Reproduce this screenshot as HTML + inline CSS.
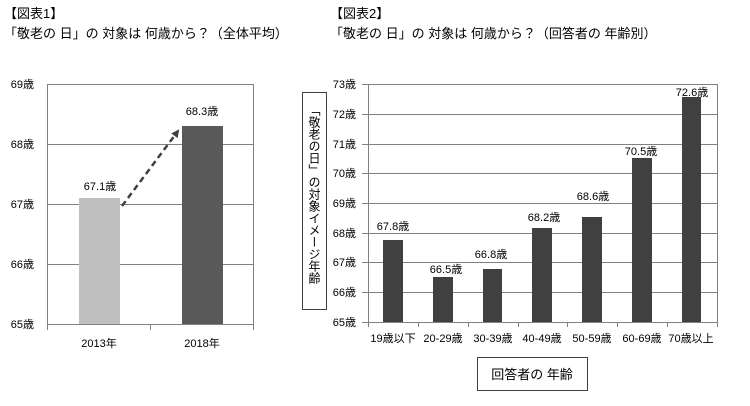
<!DOCTYPE html>
<html><head><meta charset="utf-8"><style>
body{margin:0;background:#fff;width:750px;height:401px;overflow:hidden}
svg text{font-family:"Liberation Sans","Noto Sans CJK JP",sans-serif;fill:#000}
</style></head><body>
<svg width="750" height="401" viewBox="0 0 750 401" xmlns="http://www.w3.org/2000/svg">
<defs><marker id="ah" markerWidth="8" markerHeight="8" refX="6" refY="4" orient="auto" markerUnits="userSpaceOnUse"><path d="M0,0 L8,4 L0,8 z" fill="#404040"/></marker></defs>
<g font-size="13">
<text x="4" y="18">【図表1】</text>
<text x="4" y="38">「敬老の 日」の 対象は 何歳から？（全体平均）</text>
<text x="330" y="18">【図表2】</text>
<text x="330" y="38">「敬老の 日」の 対象は 何歳から？（回答者の 年齢別）</text>
</g>
<!-- chart 1 -->
<g stroke="#808080" stroke-width="1">
<line x1="48" y1="84.5" x2="253" y2="84.5"/>
<line x1="48" y1="144.5" x2="253" y2="144.5"/>
<line x1="48" y1="204.5" x2="253" y2="204.5"/>
<line x1="48" y1="264.5" x2="253" y2="264.5"/>
<line x1="48" y1="324.5" x2="253" y2="324.5"/>
<line x1="47.5" y1="84" x2="47.5" y2="330"/>
<line x1="253.5" y1="84" x2="253.5" y2="330"/>
<line x1="150.5" y1="324" x2="150.5" y2="330"/>
</g>
<rect x="79" y="198" width="41" height="126" fill="#bfbfbf"/>
<rect x="182" y="126" width="41" height="198" fill="#595959"/>
<line x1="122" y1="206" x2="178" y2="131" stroke="#404040" stroke-width="2.5" stroke-dasharray="6,4" marker-end="url(#ah)"/>
<g font-size="11" text-anchor="end">
<text x="34" y="88">69歳</text><text x="34" y="148">68歳</text><text x="34" y="208">67歳</text><text x="34" y="268">66歳</text><text x="34" y="328">65歳</text>
</g>
<g font-size="11" text-anchor="middle">
<text x="100" y="190">67.1歳</text><text x="202" y="115">68.3歳</text>
<text x="99" y="347">2013年</text><text x="202" y="347">2018年</text>
</g>
<!-- chart 2 -->
<g stroke="#808080" stroke-width="1">
<line x1="368" y1="84.5" x2="717" y2="84.5"/>
<line x1="368" y1="114.5" x2="717" y2="114.5"/>
<line x1="368" y1="144.5" x2="717" y2="144.5"/>
<line x1="368" y1="173.5" x2="717" y2="173.5"/>
<line x1="368" y1="203.5" x2="717" y2="203.5"/>
<line x1="368" y1="233.5" x2="717" y2="233.5"/>
<line x1="368" y1="262.5" x2="717" y2="262.5"/>
<line x1="368" y1="292.5" x2="717" y2="292.5"/>
<line x1="368" y1="322.5" x2="717" y2="322.5"/>
<line x1="368.5" y1="84" x2="368.5" y2="327"/>
<line x1="717.5" y1="84" x2="717.5" y2="327"/>
<line x1="362" y1="84.5" x2="368" y2="84.5"/><line x1="362" y1="114.5" x2="368" y2="114.5"/><line x1="362" y1="144.5" x2="368" y2="144.5"/><line x1="362" y1="173.5" x2="368" y2="173.5"/><line x1="362" y1="203.5" x2="368" y2="203.5"/><line x1="362" y1="233.5" x2="368" y2="233.5"/><line x1="362" y1="262.5" x2="368" y2="262.5"/><line x1="362" y1="292.5" x2="368" y2="292.5"/><line x1="362" y1="322.5" x2="368" y2="322.5"/>
<line x1="418.5" y1="322" x2="418.5" y2="327"/><line x1="468.5" y1="322" x2="468.5" y2="327"/><line x1="518.5" y1="322" x2="518.5" y2="327"/><line x1="567.5" y1="322" x2="567.5" y2="327"/><line x1="617.5" y1="322" x2="617.5" y2="327"/><line x1="667.5" y1="322" x2="667.5" y2="327"/>
</g>
<g fill="#404040">
<rect x="383" y="240" width="20" height="82"/>
<rect x="433" y="277" width="20" height="45"/>
<rect x="483" y="269" width="19" height="53"/>
<rect x="532" y="228" width="20" height="94"/>
<rect x="582" y="217" width="20" height="105"/>
<rect x="632" y="158" width="20" height="164"/>
<rect x="682" y="97" width="19" height="225"/>
</g>
<g font-size="11" text-anchor="end">
<text x="356" y="88">73歳</text><text x="356" y="118">72歳</text><text x="356" y="148">71歳</text><text x="356" y="177">70歳</text><text x="356" y="207">69歳</text><text x="356" y="237">68歳</text><text x="356" y="266">67歳</text><text x="356" y="296">66歳</text><text x="356" y="326">65歳</text>
</g>
<g font-size="11" text-anchor="middle">
<text x="393" y="230">67.8歳</text><text x="446" y="273">66.5歳</text><text x="491" y="258">66.8歳</text><text x="544" y="221">68.2歳</text><text x="593" y="200">68.6歳</text><text x="641" y="155">70.5歳</text><text x="692" y="96">72.6歳</text>
<text x="393" y="342">19歳以下</text><text x="443" y="342">20-29歳</text><text x="493" y="342">30-39歳</text><text x="542" y="342">40-49歳</text><text x="592" y="342">50-59歳</text><text x="642" y="342">60-69歳</text><text x="691" y="342">70歳以上</text>
</g>
<rect x="302.5" y="92.5" width="24" height="217" fill="none" stroke="#404040"/>
<text x="314" y="104" font-size="12" writing-mode="tb" style="writing-mode:vertical-rl;glyph-orientation-vertical:0" text-anchor="start">「敬老の日」の対象イメージ年齢</text>
<rect x="477.5" y="357.5" width="110" height="33" fill="none" stroke="#404040"/>
<text x="532" y="379" font-size="13" text-anchor="middle">回答者の 年齢</text>
</svg>
</body></html>
